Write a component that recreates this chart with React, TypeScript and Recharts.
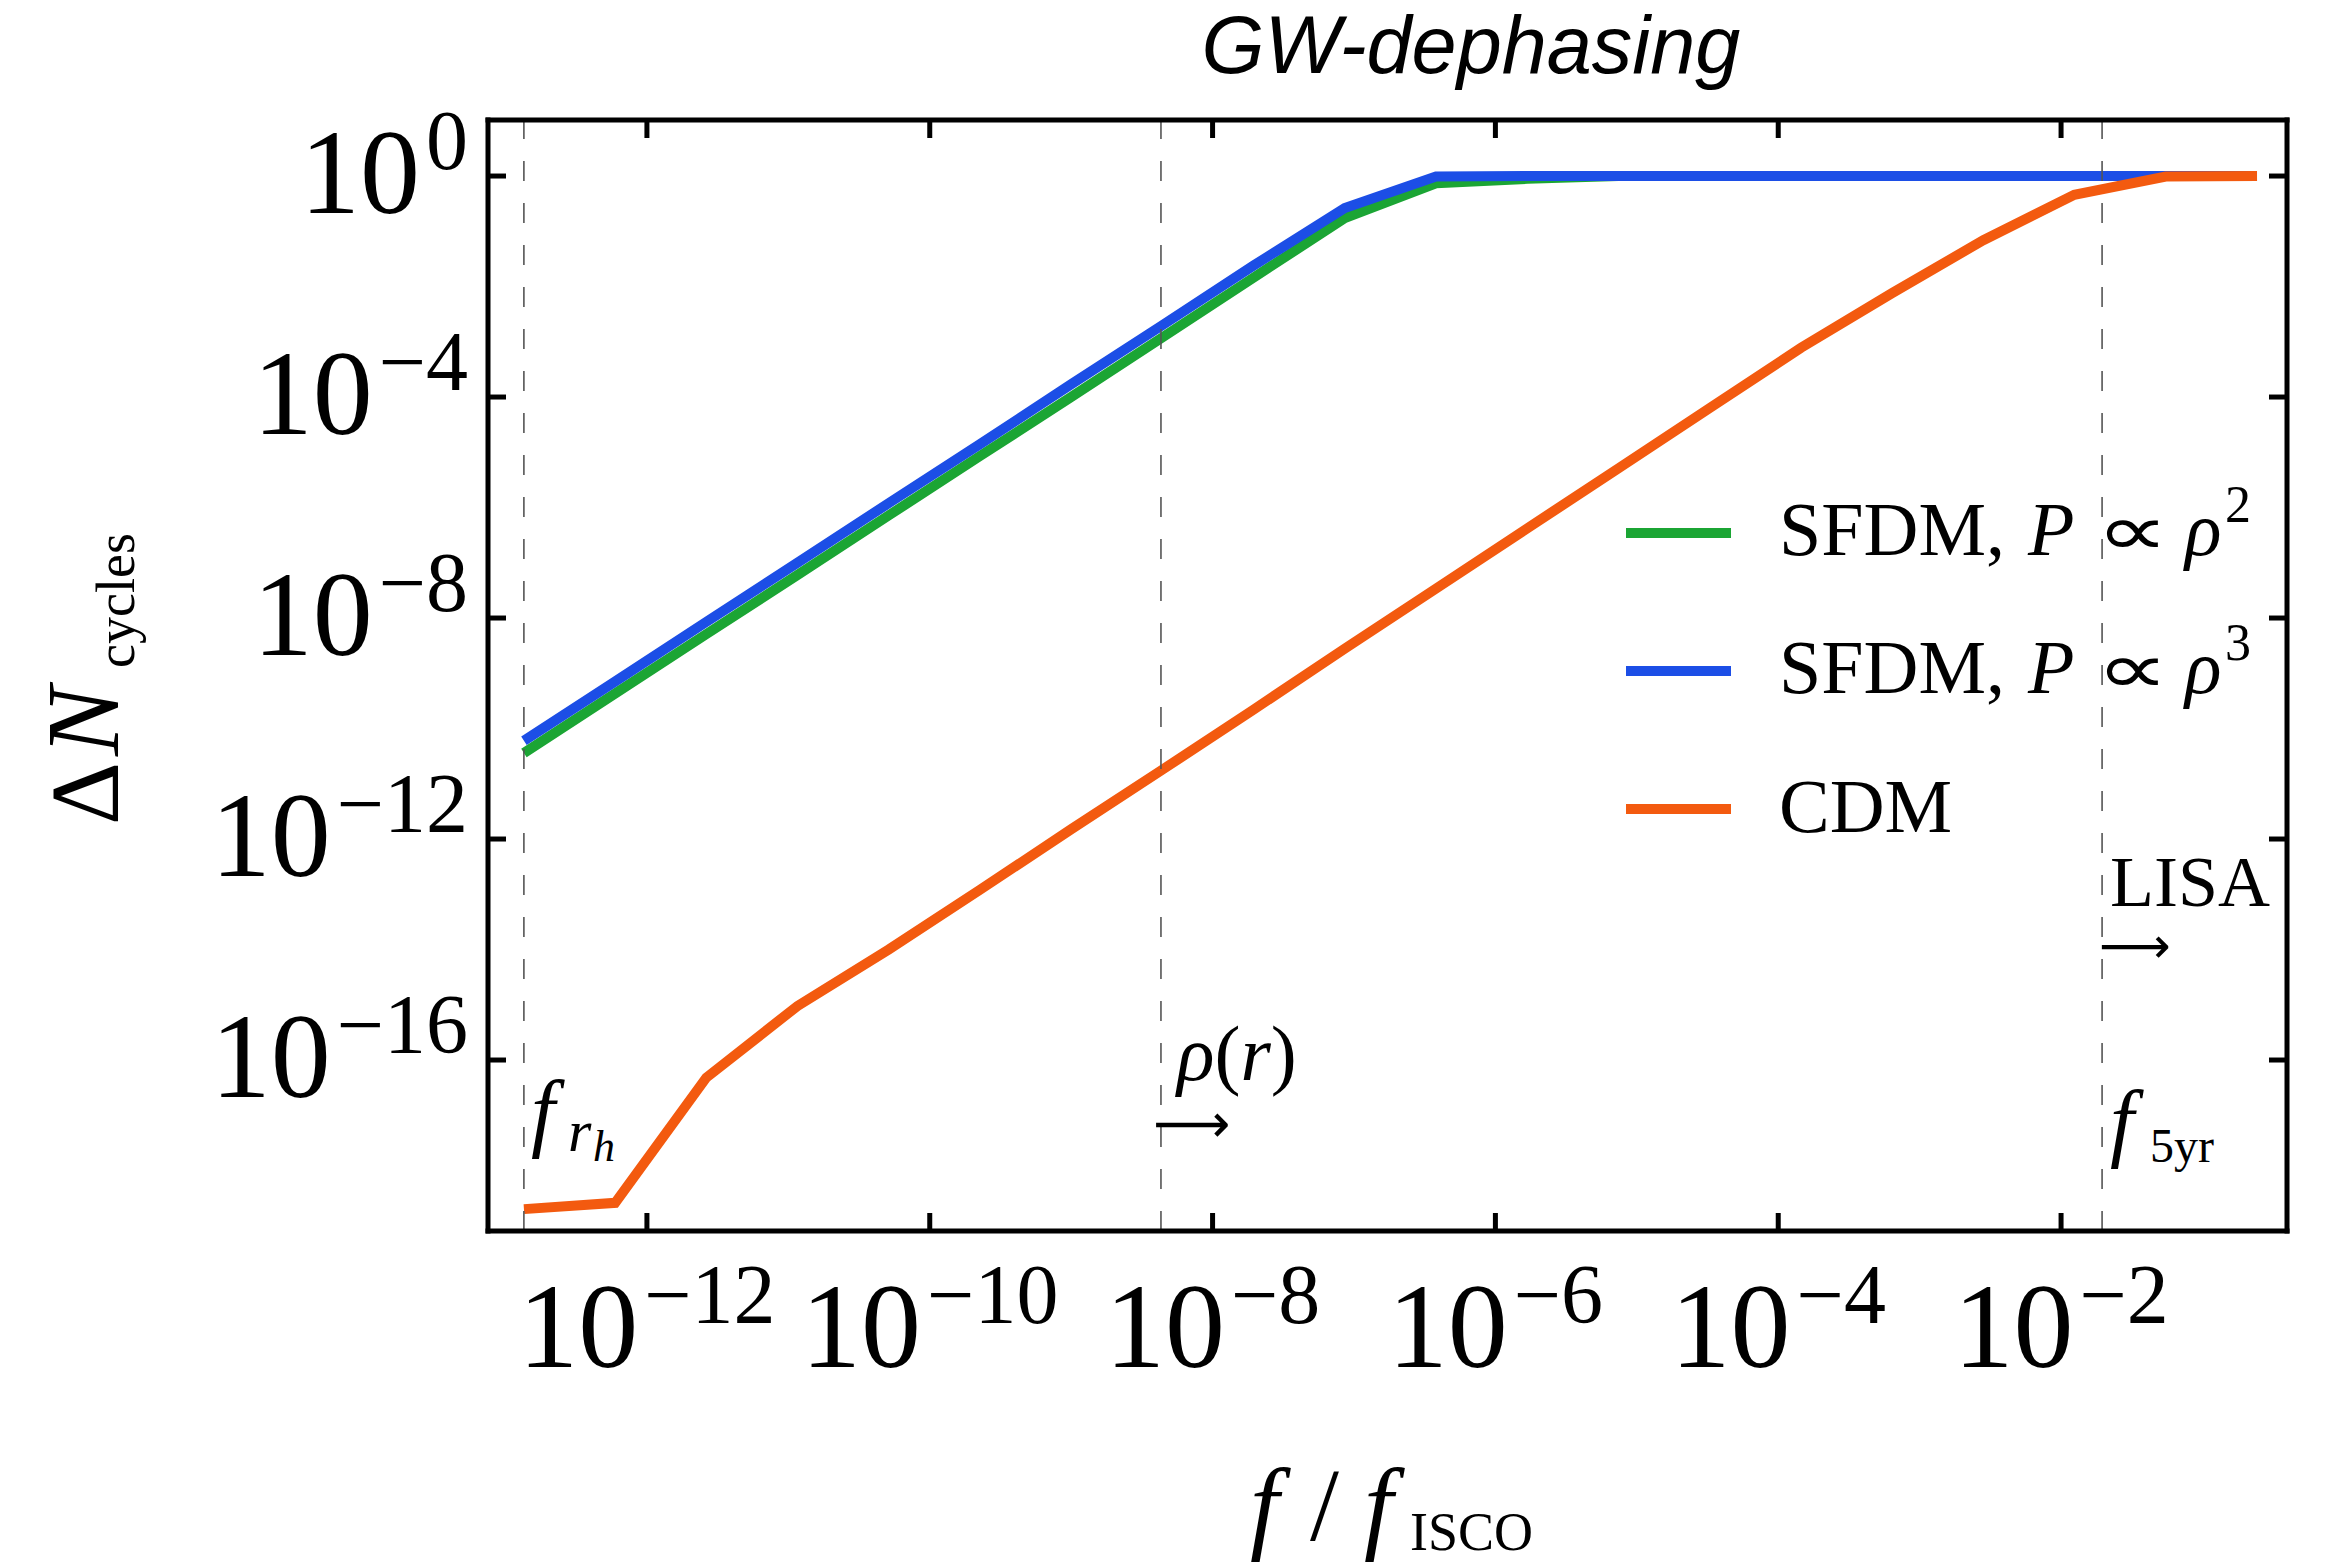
import React from 'react';
import { LineChart, Line, XAxis, YAxis, ReferenceLine, Legend } from 'recharts';

const W = 2339;
const H = 1565;
const SERIF = "'Liberation Serif', 'DejaVu Serif', serif";
const SANS = "'Liberation Sans', Arial, sans-serif";
const SYM = "'DejaVu Sans', sans-serif";

const GREEN = '#1ba534';
const BLUE = '#1c4ee6';
const ORANGE = '#f35a0f';

// f / f_ISCO
const freqRatio = [1.35e-13, 5.96e-13, 2.63e-12, 1.16e-11, 5.13e-11, 2.26e-10, 1.0e-9, 4.42e-9, 1.95e-8, 8.61e-8, 3.8e-7, 1.68e-6, 7.41e-6, 3.27e-5, 1.45e-4, 6.38e-4, 2.82e-3, 1.24e-2, 5.5e-2, 2.43e-1];
// Delta N_cycles
const sfdmGamma2 = [3.6e-11, 4.3e-10, 5.1e-9, 6.0e-8, 7.2e-7, 8.5e-6, 1.0e-4, 1.2e-3, 1.45e-2, 0.174, 0.74, 0.89, 1, 1, 1, 1, 1, 1, 1, 1];
const sfdmGamma3 = [6.0e-11, 7.1e-10, 8.5e-9, 1.0e-7, 1.2e-6, 1.4e-5, 1.7e-4, 2.0e-3, 2.4e-2, 0.263, 0.98, 1, 1, 1, 1, 1, 1, 1, 1, 1];
const cdm = [2.0e-19, 2.6e-19, 4.8e-17, 9.5e-16, 1.0e-14, 1.2e-13, 1.5e-12, 1.8e-11, 2.2e-10, 2.8e-9, 3.4e-8, 4.2e-7, 5.1e-6, 6.3e-5, 7.8e-4, 7.6e-3, 6.9e-2, 0.457, 0.98, 1];

const xTickValues = [1e-12, 1e-10, 1e-8, 1e-6, 1e-4, 1e-2];
const xTickExponents = ['\u221212', '\u221210', '\u22128', '\u22126', '\u22124', '\u22122'];
const yTickValues = [1, 1e-4, 1e-8, 1e-12, 1e-16];
const yTickExponents = ['0', '\u22124', '\u22128', '\u221212', '\u221216'];

// vertical dashed markers: f_rh, rho(r) onset, f_5yr
const markerFreqs = [1.349e-13, 4.315e-9, 1.95e-2];

const xDomain = [7.52e-14, 0.396];
const yDomain = [8.04e-20, 10.33];

const seriesList = [
  { key: 'sfdm2', label: 'SFDM, ', power: '2', color: GREEN, values: sfdmGamma2 },
  { key: 'sfdm3', label: 'SFDM, ', power: '3', color: BLUE, values: sfdmGamma3 },
  { key: 'cdm', label: 'CDM', power: '', color: ORANGE, values: cdm },
];

const data = freqRatio.map((x, i) => ({
  x,
  sfdm2: sfdmGamma2[i],
  sfdm3: sfdmGamma3[i],
  cdm: cdm[i],
}));

const TICK_LEN = 18;
const TICK_W = 5;

const BottomTick = (props: any) => {
  const { x, y, payload } = props;
  const i = xTickValues.indexOf(payload.value);
  return (
    <g>
      <line x1={x} y1={y} x2={x} y2={y - TICK_LEN} stroke="#000" strokeWidth={TICK_W} />
      <text x={x} y={y + 136} textAnchor="middle" fontFamily={SERIF} fontSize={120} fill="#000">
        <tspan>10</tspan>
        <tspan dx={6} dy={-44} fontSize={84}>{xTickExponents[i]}</tspan>
      </text>
    </g>
  );
};

const TopTick = (props: any) => {
  const { x, y } = props;
  return <line x1={x} y1={y} x2={x} y2={y + TICK_LEN} stroke="#000" strokeWidth={TICK_W} />;
};

const LeftTick = (props: any) => {
  const { x, y, payload } = props;
  const i = yTickValues.indexOf(payload.value);
  return (
    <g>
      <line x1={x} y1={y} x2={x + TICK_LEN} y2={y} stroke="#000" strokeWidth={TICK_W} />
      <text x={x - 20} y={y + 37} textAnchor="end" fontFamily={SERIF} fontSize={120} fill="#000">
        <tspan>10</tspan>
        <tspan dx={6} dy={-44} fontSize={84}>{yTickExponents[i]}</tspan>
      </text>
    </g>
  );
};

const RightTick = (props: any) => {
  const { x, y } = props;
  return <line x1={x} y1={y} x2={x - TICK_LEN} y2={y} stroke="#000" strokeWidth={TICK_W} />;
};

const LEG_LEFT = 1600;
const LEG_TOP = 470;

const renderLegend = () => {
  const rows = [
    { lineY: 533, baseY: 555 },
    { lineY: 671, baseY: 693 },
    { lineY: 809, baseY: 832 },
  ];
  return (
    <svg width={720} height={420} style={{ overflow: 'visible', display: 'block' }}>
      {seriesList.map((s, i) => {
        const ly = rows[i].lineY - LEG_TOP;
        const by = rows[i].baseY - LEG_TOP;
        return (
          <g key={s.key}>
            <line x1={1626 - LEG_LEFT} y1={ly} x2={1731 - LEG_LEFT} y2={ly} stroke={s.color} strokeWidth={10} />
            <text y={by} fontFamily={SERIF} fontSize={76} fill="#000">
              <tspan x={1779 - LEG_LEFT}>{s.label}</tspan>
              {s.power ? (
                <>
                  <tspan x={2028 - LEG_LEFT} fontStyle="italic">P</tspan>
                  <tspan x={2185 - LEG_LEFT} fontStyle="italic">{'\u03C1'}</tspan>
                  <tspan x={2225 - LEG_LEFT} y={by - 33} fontSize={52}>{s.power}</tspan>
                </>
              ) : null}
            </text>
            {s.power ? (
              <text
                transform={`translate(${2096 - LEG_LEFT},${by}) scale(1.5,1.05)`}
                fontFamily={SYM}
                fontSize={68}
                fill="#000"
              >
                {'\u221D'}
              </text>
            ) : null}
          </g>
        );
      })}
    </svg>
  );
};

const Overlay = () => (
  <svg width={W} height={H} style={{ position: 'absolute', left: 0, top: 0, pointerEvents: 'none' }}>
    {/* title */}
    <text x={1471} y={73} textAnchor="middle" fontFamily={SANS} fontStyle="italic" fontSize={81} fill="#000">GW-dephasing</text>
    {/* x label */}
    <text y={1540} fontFamily={SERIF} fontSize={104} fill="#000">
      <tspan x={1250} fontStyle="italic">f</tspan>
      <tspan x={1310}>/</tspan>
      <tspan x={1364} fontStyle="italic">f</tspan>
      <tspan x={1410} y={1550} fontSize={54}>ISCO</tspan>
    </text>
    {/* y label */}
    <g transform="translate(118,828) rotate(-90)">
      <text y={0} fontFamily={SERIF} fontSize={98} fill="#000">
        <tspan x={3}>{'\u0394'}</tspan>
        <tspan x={72} fontSize={104} fontStyle="italic">N</tspan>
        <tspan x={160} y={16} fontSize={54}>cycles</tspan>
      </text>
    </g>
    {/* f_rh */}
    <text fontFamily={SERIF} fontStyle="italic" fill="#000">
      <tspan x={531} y={1140} fontSize={86}>f</tspan>
      <tspan x={568} y={1151} fontSize={60}>r</tspan>
      <tspan x={593} y={1161} fontSize={44}>h</tspan>
    </text>
    {/* rho(r) */}
    <text fontFamily={SERIF} fontSize={78} fill="#000">
      <tspan x={1177} y={1080} fontStyle="italic">{'\u03C1'}</tspan>
      <tspan>(</tspan>
      <tspan fontStyle="italic">r</tspan>
      <tspan>)</tspan>
    </text>
    <text x={1153} y={1142} fontFamily={SYM} fontSize={54} fill="#000">{'\u27F6'}</text>
    {/* LISA */}
    <text x={2110} y={906} fontFamily={SERIF} fontSize={72} fill="#000">LISA</text>
    <text x={2099} y={963} fontFamily={SYM} fontSize={50} fill="#000">{'\u27F6'}</text>
    {/* f_5yr */}
    <text fill="#000" fontFamily={SERIF}>
      <tspan x={2110} y={1150} fontSize={86} fontStyle="italic">f</tspan>
      <tspan x={2150} y={1162} fontSize={48}>5yr</tspan>
    </text>
  </svg>
);

export default function App() {
  const axisLine = { stroke: '#000', strokeWidth: 5, strokeLinecap: 'square' as const };
  return (
    <div style={{ position: 'relative', width: W, height: H, background: '#fff' }}>
      <style>{'body{margin:0;background:#fff}'}</style>
      <LineChart
        width={W}
        height={H}
        data={data}
        margin={{ top: 119, right: 51, bottom: 184, left: 388 }}
      >
        <XAxis
          xAxisId="b"
          dataKey="x"
          type="number"
          scale="log"
          domain={xDomain}
          allowDataOverflow
          ticks={xTickValues}
          interval={0}
          tickSize={0}
          tickMargin={0}
          tickLine={false}
          axisLine={axisLine}
          tick={BottomTick}
          height={150}
          orientation="bottom"
        />
        <XAxis
          xAxisId="t"
          dataKey="x"
          type="number"
          scale="log"
          domain={xDomain}
          allowDataOverflow
          ticks={xTickValues}
          interval={0}
          tickSize={0}
          tickMargin={0}
          tickLine={false}
          axisLine={axisLine}
          tick={TopTick}
          height={1}
          orientation="top"
        />
        <YAxis
          yAxisId="l"
          type="number"
          scale="log"
          domain={yDomain}
          allowDataOverflow
          ticks={yTickValues}
          interval={0}
          tickSize={0}
          tickMargin={0}
          tickLine={false}
          axisLine={axisLine}
          tick={LeftTick}
          width={100}
          orientation="left"
        />
        <YAxis
          yAxisId="r"
          type="number"
          scale="log"
          domain={yDomain}
          allowDataOverflow
          ticks={yTickValues}
          interval={0}
          tickSize={0}
          tickMargin={0}
          tickLine={false}
          axisLine={axisLine}
          tick={RightTick}
          width={1}
          orientation="right"
        />
        {seriesList.map((s) => (
          <Line
            key={s.key}
            xAxisId="b"
            yAxisId="l"
            type="linear"
            dataKey={s.key}
            name={s.key}
            stroke={s.color}
            strokeWidth={10}
            dot={false}
            activeDot={false}
            isAnimationActive={false}
          />
        ))}
        {markerFreqs.map((f) => (
          <ReferenceLine
            key={f}
            xAxisId="b"
            yAxisId="l"
            x={f}
            stroke="#555"
            strokeWidth={1.6}
            strokeDasharray="20 22"
          />
        ))}
        <Legend
          layout="vertical"
          align="center"
          verticalAlign="middle"
          wrapperStyle={{ left: LEG_LEFT, top: LEG_TOP, width: 720, height: 420 }}
          content={renderLegend}
        />
      </LineChart>
      <Overlay />
    </div>
  );
}
